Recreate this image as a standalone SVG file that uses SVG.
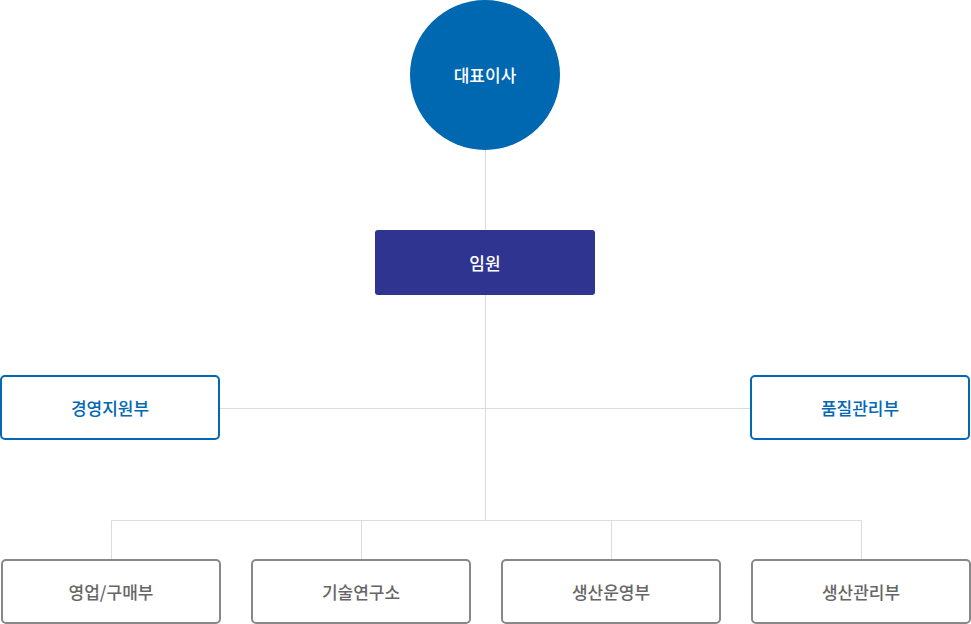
<svg xmlns="http://www.w3.org/2000/svg" width="971" height="624" viewBox="0 0 971 624">
<style>
text{font-family:"Noto Sans CJK KR","Noto Sans",sans-serif;font-size:17px;text-anchor:middle;dominant-baseline:central;font-weight:500}
.l{stroke:#dcdcdc;stroke-width:1;fill:none}
.b{fill:#fff;stroke:#0068b4;stroke-width:2}
.g{fill:#fff;stroke:#888;stroke-width:2}
.bt{fill:#0068b4}.gt{fill:#666}.wt{fill:#fff}
</style>
<g id="connectors">
<path class="l" d="M485.5 150V230M485.5 295V520M219 408.5H751M111.5 560V520.5H861.5V560M361.5 520V560M611.5 520V560"/>
</g>
<g id="ceo"><circle cx="485" cy="75" r="75" fill="#0068b1"/><text class="wt" x="485" y="74">대표이사</text></g>
<g id="exec"><rect x="375" y="230" width="220" height="65" rx="3" fill="#2e3490"/><text class="wt" x="485" y="262">임원</text></g>
<g id="n1"><rect class="b" x="1" y="376" width="218" height="63" rx="4"/><text class="bt" x="110" y="407">경영지원부</text></g>
<g id="n2"><rect class="b" x="751" y="376" width="218" height="63" rx="4"/><text class="bt" x="860" y="407">품질관리부</text></g>
<g id="n3"><rect class="g" x="2" y="560" width="218" height="63" rx="4"/><text class="gt" x="111" y="591">영업/구매부</text></g>
<g id="n4"><rect class="g" x="252" y="560" width="218" height="63" rx="4"/><text class="gt" x="361" y="591">기술연구소</text></g>
<g id="n5"><rect class="g" x="502" y="560" width="218" height="63" rx="4"/><text class="gt" x="611" y="591">생산운영부</text></g>
<g id="n6"><rect class="g" x="752" y="560" width="218" height="63" rx="4"/><text class="gt" x="861" y="591">생산관리부</text></g>
</svg>
